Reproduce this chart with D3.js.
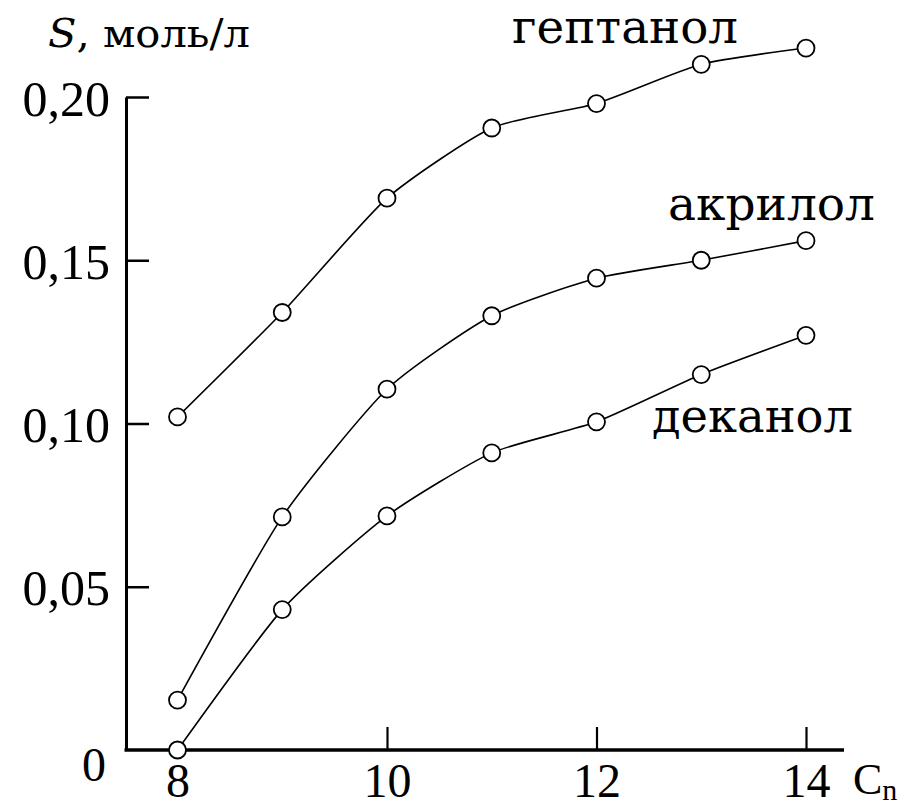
<!DOCTYPE html>
<html>
<head>
<meta charset="utf-8">
<script src="https://cdn.jsdelivr.net/npm/d3@7"></script>
<style>
  body { margin: 0; background: #fff; }
  svg { display: block; }
</style>
</head>
<body>
<div id="chart"></div>
<script>
// Carbon number of the chain
const carbons = [8, 9, 10, 11, 12, 13, 14];

// S, mol/l for each solvent
const heptanol = [0.102, 0.134, 0.169, 0.1905, 0.198, 0.210, 0.215];
const acrylol = [0.0153, 0.0714, 0.1105, 0.133, 0.1445, 0.150, 0.156];
const decanol = [0.0, 0.043, 0.0717, 0.091, 0.1005, 0.115, 0.127];

const seriesNames = ["гептанол", "акрилол", "деканол"];
const yTicks = [0.05, 0.10, 0.15, 0.20];
const xTicks = [8, 10, 12, 14];

const series = [heptanol, acrylol, decanol].map((vals, i) => ({
  name: seriesNames[i],
  values: vals.map((v, j) => ({ c: carbons[j], s: v }))
}));

const width = 915;
const height = 806;
const margin = { top: 97, right: 71, bottom: 56, left: 126 };
const serif = "'Liberation Serif', 'DejaVu Serif', serif";
const cyrSerif = "'DejaVu Serif', 'Liberation Serif', serif";

const svg = d3.select("#chart")
  .append("svg")
  .attr("width", width)
  .attr("height", height)
  .attr("font-family", serif);

const x = d3.scaleLinear()
  .domain([8, 14])
  .range([177.5, 806]);

const y = d3.scaleLinear()
  .domain([0, 0.20])
  .range([height - margin.bottom, margin.top]);

const comma = d3.formatLocale({ decimal: ",", thousands: " ", grouping: [3], currency: ["", ""] }).format(".2f");

// y axis, ticks point inward
const yAxis = g => g
  .attr("transform", `translate(${margin.left},0)`)
  .call(d3.axisLeft(y).tickValues(yTicks).tickSizeInner(-23).tickSizeOuter(0).tickPadding(16).tickFormat(comma))
  .attr("font-family", serif)
  .call(g => g.select(".domain").attr("stroke-width", 3))
  .call(g => g.selectAll(".tick line").attr("stroke-width", 2.5))
  .call(g => g.selectAll("text").attr("fill", "#000").style("font-size", "50px").attr("dy", "0.36em"));

// x axis, no tick line at 8
const xAxis = g => g
  .attr("transform", `translate(0,${height - margin.bottom})`)
  .call(d3.axisBottom(x).tickValues(xTicks).tickFormat(d3.format("d")).tickSizeInner(-23).tickSizeOuter(0).tickPadding(13))
  .attr("font-family", serif)
  .call(g => g.select(".domain").remove())
  .call(g => g.selectAll(".tick").filter(d => d === 8).select("line").remove())
  .call(g => g.selectAll(".tick line").attr("stroke-width", 2.2))
  .call(g => g.selectAll("text").attr("fill", "#000").style("font-size", "48px"));

svg.append("g").call(xAxis);

svg.append("line")
  .attr("x1", margin.left - 1.5)
  .attr("x2", width - margin.right)
  .attr("y1", y(0))
  .attr("y2", y(0))
  .attr("stroke", "#000")
  .attr("stroke-width", 3.5);

svg.append("g").call(yAxis);

// origin label
svg.append("text")
  .attr("x", margin.left - 20)
  .attr("y", y(0) + 31)
  .attr("text-anchor", "end")
  .attr("font-family", serif)
  .style("font-size", "48px")
  .text("0");

// axis titles
const yTitle = svg.append("text")
  .attr("x", 48)
  .attr("y", 47)
  .attr("font-family", cyrSerif)
  .attr("textLength", 202)
  .attr("lengthAdjust", "spacingAndGlyphs")
  .style("font-size", "39px");
yTitle.append("tspan").attr("font-style", "italic").text("S");
yTitle.append("tspan").text(", моль/л");

const xTitle = svg.append("text")
  .attr("x", 853)
  .attr("y", 794)
  .attr("font-family", serif)
  .style("font-size", "44px");
xTitle.append("tspan").text("C");
xTitle.append("tspan").attr("dy", 6).style("font-size", "30px").text("n");

// curves
const line = d3.line()
  .x(d => x(d.c))
  .y(d => y(d.s))
  .curve(d3.curveCardinal.tension(0.4));

svg.append("g")
  .selectAll("path")
  .data(series)
  .join("path")
  .attr("d", d => line(d.values))
  .attr("fill", "none")
  .attr("stroke", "#000")
  .attr("stroke-width", 1.6);

svg.append("g")
  .selectAll("circle")
  .data(series.flatMap(d => d.values))
  .join("circle")
  .attr("cx", d => x(d.c))
  .attr("cy", d => y(d.s))
  .attr("r", 8.5)
  .attr("fill", "#fff")
  .attr("stroke", "#000")
  .attr("stroke-width", 1.8);

// series labels
const labelPos = [
  { x: 512, y: 43, w: 226 },
  { x: 668, y: 220, w: 207 },
  { x: 652, y: 432, w: 201 }
];

svg.append("g")
  .attr("font-family", cyrSerif)
  .selectAll("text")
  .data(series)
  .join("text")
  .attr("x", (d, i) => labelPos[i].x)
  .attr("y", (d, i) => labelPos[i].y)
  .attr("textLength", (d, i) => labelPos[i].w)
  .attr("lengthAdjust", "spacingAndGlyphs")
  .style("font-size", "46px")
  .text(d => d.name);
</script>
</body>
</html>
